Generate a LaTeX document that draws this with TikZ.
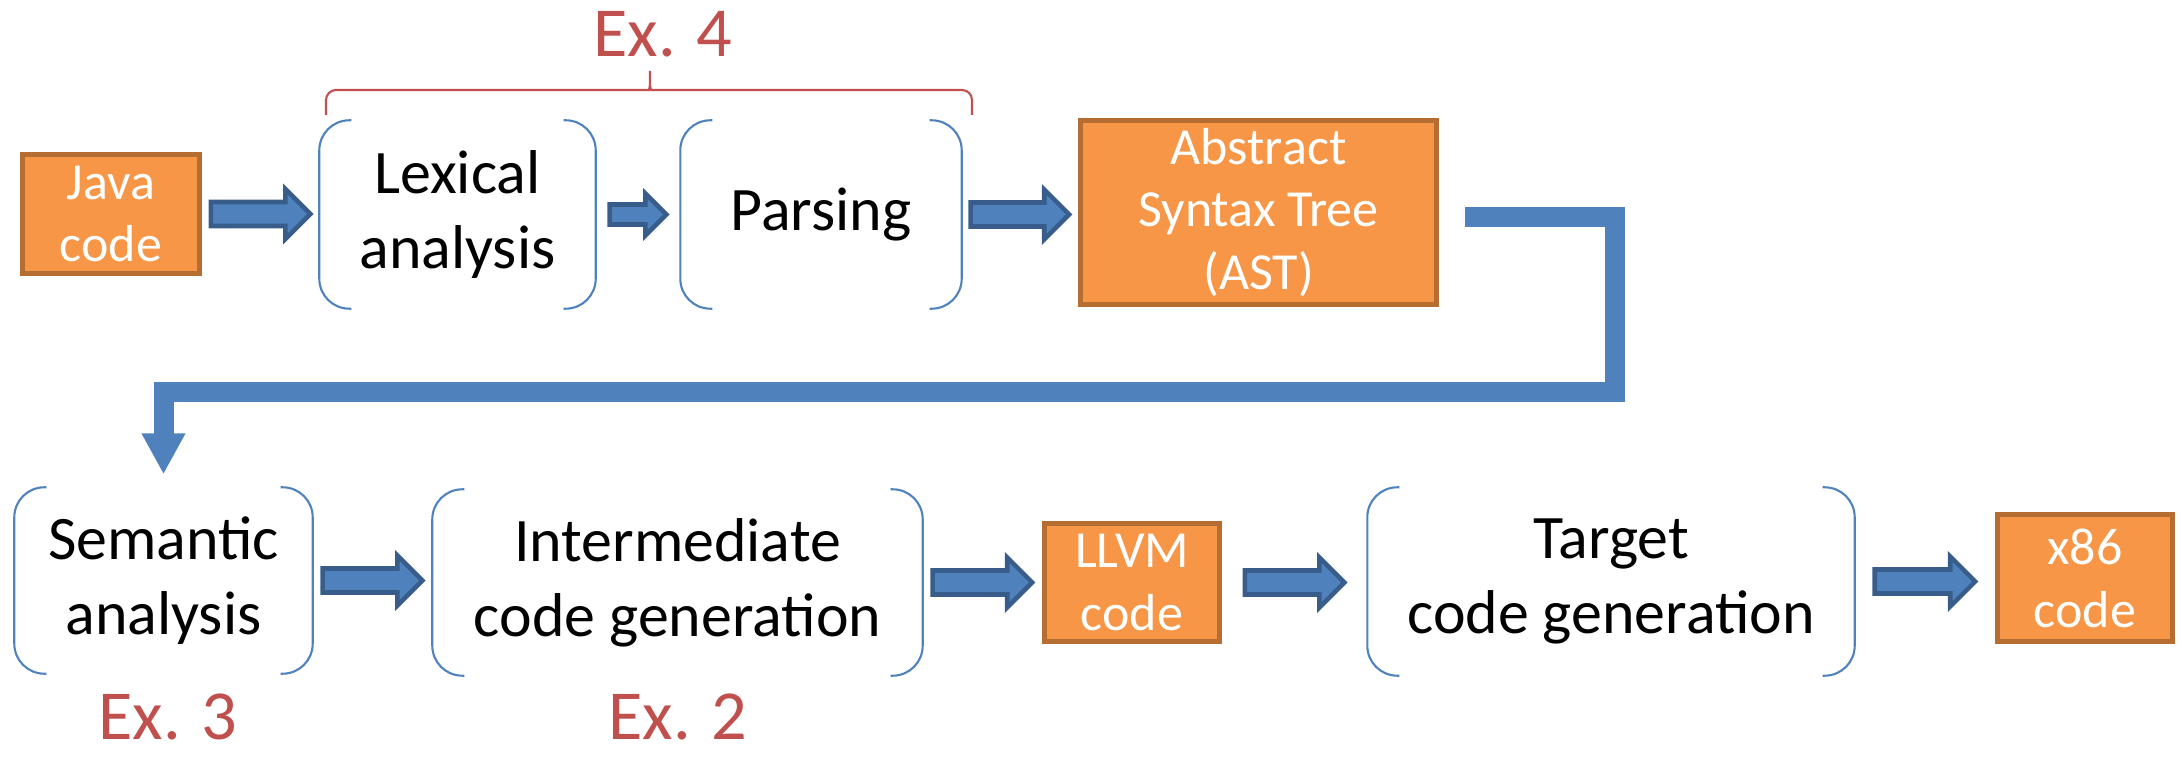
\documentclass[tikz,border=0pt]{standalone}
\usepackage{fontspec}
\setmainfont{Carlito}
\usepackage{xcolor}
\usepackage{tikz}
\usetikzlibrary{calc, positioning, arrows.meta}

\definecolor{camnhat}{HTML}{F79646}
\definecolor{camdam}{HTML}{B66D31}
\definecolor{xanh}{HTML}{4F81BD}
\definecolor{xanhdam}{HTML}{385D8A}
\definecolor{dogach}{HTML}{C0504D}

% mui ten khoi: #1 nut dau, #2 nut cuoi, #3 khoang ho, #4 nua than, #5 nua dau
\newcommand{\muiten}[5]{%
  \path[khoimuiten] let \p1 = ($(#1.east)+(#3,0)$), \p2 = ($(#2.west)-(#3,0)$) in
    (\x1,\y1+#4) -- (\x2-#5,\y1+#4) -- (\x2-#5,\y1+#5) -- (\x2,\y1)
    -- (\x2-#5,\y1-#5) -- (\x2-#5,\y1-#4) -- (\x1,\y1-#4) -- cycle;
}
% ngoac hai ben cua mot nut
\newcommand{\vengoac}[1]{%
  \draw[ngoac] ([xshift=3.2mm]#1.north west) -- (#1.north west) -- (#1.south west) -- ([xshift=3.2mm]#1.south west);
  \draw[ngoac] ([xshift=-3.2mm]#1.north east) -- (#1.north east) -- (#1.south east) -- ([xshift=-3.2mm]#1.south east);
}

\begin{document}
\begin{tikzpicture}[>=stealth, scale=1,
    hopcam/.style={draw=camdam, fill=camnhat, line width=1.3pt, text=white, align=center,
      inner sep=0pt, font=\fontsize{14.8}{17.9}\selectfont},
    buoc/.style={inner sep=0pt, align=center, font=\fontsize{17.6}{21.3}\selectfont},
    ngoac/.style={draw=xanh, line width=0.6pt, rounded corners=3mm},
    khoimuiten/.style={draw=xanhdam, fill=xanh, line width=1.3pt},
    duongnoi/.style={draw=xanh, line width=2mm, -{Triangle[length=4.1mm, width=4.1mm]}},
    ngoacdo/.style={draw=dogach, line width=0.6pt, rounded corners=1mm},
    nhan/.style={text=dogach, anchor=base, inner sep=0pt, font=\fontsize{20}{24}\selectfont}]

    \useasboundingbox (0,0) rectangle (21.82,-7.57);

    % =================================================================
    % 1. HANG TREN
    % =================================================================
    \node[hopcam, minimum width=1.77cm, minimum height=1.19cm] (java) at (1.11,-2.14) {Java\\code};
    \node[buoc, minimum width=2.75cm, minimum height=1.87cm] (lex) at (4.575,-2.145) {Lexical\\analysis};
    \node[buoc, minimum width=2.80cm, minimum height=1.87cm] (parse) at (8.21,-2.145) {Parsing};
    \node[hopcam, minimum width=3.56cm, minimum height=1.84cm] (ast) at (12.585,-2.125) {Abstract\\Syntax Tree\\(AST)};

    % =================================================================
    % 2. HANG DUOI
    % =================================================================
    \node[buoc, minimum width=2.97cm, minimum height=1.85cm] (sem) at (1.635,-5.805) {Semantic\\analysis};
    \node[buoc, minimum width=4.89cm, minimum height=1.85cm] (int) at (6.775,-5.825) {Intermediate\\code generation};
    \node[hopcam, minimum width=1.75cm, minimum height=1.18cm] (llvm) at (11.32,-5.825) {LLVM\\code};
    \node[buoc, minimum width=4.86cm, minimum height=1.87cm] (target) at (16.11,-5.815) {Target\\code generation};
    \node[hopcam, minimum width=1.75cm, minimum height=1.27cm] (x86) at (20.85,-5.78) {x86\\code};

    % Ngoac hai ben cac buoc
    \foreach \n in {lex, parse, sem, int, target} {\vengoac{\n}}

    % =================================================================
    % 3. CAC MUI TEN
    % =================================================================
    \foreach \a/\b/\g in {java/lex/0.9mm, parse/ast/0.9mm, sem/int/1.0mm, int/llvm/1.0mm, llvm/target/2.3mm, target/x86/2.0mm}
      {\muiten{\a}{\b}{\g}{1.2mm}{2.5mm}}
    \muiten{lex}{parse}{1.4mm}{1.0mm}{2.1mm}

    % Duong noi tu AST xuong hang duoi
    \draw[duongnoi] ([xshift=2.6mm, yshift=-0.5mm]ast.east) -| (16.15,-3.925) -| ([yshift=1.3mm]sem.north);

    % =================================================================
    % 4. NHAN Ex.
    % =================================================================
    \draw[ngoacdo] (3.26,-1.15) -- (3.26,-0.90) -- (6.42,-0.90)
      .. controls (6.50,-0.90) and (6.50,-0.86) .. (6.50,-0.65)
      .. controls (6.50,-0.86) and (6.50,-0.90) .. (6.58,-0.90) -- (9.72,-0.90) -- (9.72,-1.15);
    \node[nhan] (ex4) at (6.63,-0.57) {Ex. 4};
    \node[nhan] (ex3) at (1.68,-7.40) {Ex. 3};
    \node[nhan] (ex2) at (6.78,-7.40) {Ex. 2};

\end{tikzpicture}
\end{document}
